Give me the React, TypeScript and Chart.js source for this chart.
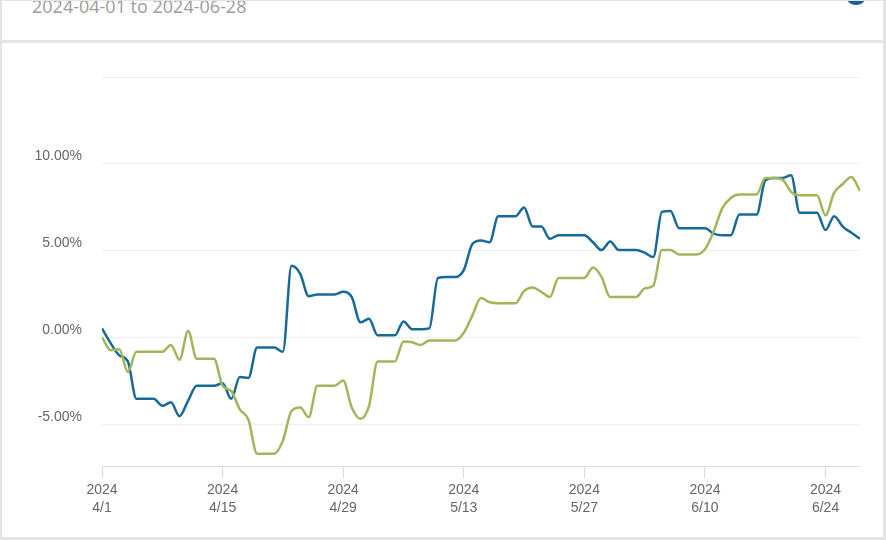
import { useEffect, useRef } from 'react';
import { Chart, registerables } from 'chart.js';

Chart.register(...registerables);

// Cumulative return (%) per calendar day, 2024-04-01 .. 2024-06-28 (weekends hold Friday's value)
const portfolioReturns = [
  0.55, -0.3, -1.0, -1.35, -3.5, -3.5, -3.5,
  -3.9, -3.7, -4.5, -3.6, -2.75, -2.75, -2.75,
  -2.6, -3.5, -2.25, -2.3, -0.55, -0.55, -0.55,
  -0.8, 4.15, 3.7, 2.4, 2.5, 2.5, 2.5,
  2.65, 2.35, 0.9, 1.1, 0.15, 0.15, 0.15,
  0.95, 0.5, 0.5, 0.55, 3.45, 3.5, 3.5,
  3.9, 5.4, 5.6, 5.5, 7.0, 7.0, 7.0,
  7.5, 6.4, 6.4, 5.7, 5.9, 5.9, 5.9,
  5.9, 5.5, 5.05, 5.55, 5.05, 5.05, 5.05,
  4.9, 4.65, 7.25, 7.3, 6.3, 6.3, 6.3,
  6.3, 6.0, 5.9, 5.9, 7.1, 7.1, 7.1,
  9.05, 9.2, 9.2, 9.35, 7.2, 7.2, 7.2,
  6.2, 7.0, 6.4, 6.05, 5.7,
];

const benchmarkReturns = [
  0.05, -0.7, -0.65, -1.95, -0.8, -0.8, -0.8,
  -0.8, -0.4, -1.25, 0.4, -1.2, -1.2, -1.2,
  -2.75, -3.05, -4.1, -4.7, -6.65, -6.65, -6.65,
  -5.9, -4.2, -4.0, -4.55, -2.75, -2.75, -2.75,
  -2.45, -4.0, -4.65, -3.9, -1.35, -1.35, -1.35,
  -0.2, -0.25, -0.4, -0.15, -0.15, -0.15, -0.15,
  0.3, 1.3, 2.3, 2.05, 2.0, 2.0, 2.0,
  2.7, 2.9, 2.65, 2.35, 3.45, 3.45, 3.45,
  3.45, 4.05, 3.5, 2.35, 2.35, 2.35, 2.35,
  2.85, 3.0, 5.05, 5.05, 4.8, 4.8, 4.8,
  5.1, 6.1, 7.45, 8.05, 8.25, 8.25, 8.25,
  9.2, 9.2, 9.1, 8.4, 8.2, 8.2, 8.2,
  7.05, 8.35, 8.85, 9.25, 8.45,
];

const tickDays = [0, 14, 28, 42, 56, 70, 84];
const tickYears = ['2024', '2024', '2024', '2024', '2024', '2024', '2024'];
const tickDates = ['4/1', '4/15', '4/29', '5/13', '5/27', '6/10', '6/24'];
const yTickValues = [-5, 0, 5, 10, 15];

const FONT = '"Liberation Sans", Arial, sans-serif';

const ReturnChart = () => {
  const chartRef = useRef<HTMLCanvasElement>(null);
  const chartInstance = useRef<Chart | null>(null);

  useEffect(() => {
    if (chartInstance.current) {
      chartInstance.current.destroy();
    }
    if (chartRef.current) {
      const ctx = chartRef.current.getContext('2d');
      if (ctx) {
        chartInstance.current = new Chart(ctx, {
          type: 'line',
          data: {
            datasets: [
              {
                label: 'Benchmark',
                data: benchmarkReturns.map((y, i) => ({ x: i, y })),
                borderColor: '#a0b65a',
                borderWidth: 2.5,
                pointRadius: 0,
                cubicInterpolationMode: 'monotone',
              },
              {
                label: 'Portfolio',
                data: portfolioReturns.map((y, i) => ({ x: i, y })),
                borderColor: '#17699a',
                borderWidth: 2.5,
                pointRadius: 0,
                cubicInterpolationMode: 'monotone',
              },
            ],
          },
          options: {
            animation: false,
            responsive: true,
            maintainAspectRatio: false,
            layout: { padding: { left: 0, right: 23, top: 34, bottom: 0 } },
            plugins: { legend: { display: false }, tooltip: { enabled: false } },
            scales: {
              x: {
                type: 'linear',
                min: 0,
                max: 88,
                afterBuildTicks: (s: any) => {
                  s.ticks = tickDays.map((v) => ({ value: v }));
                },
                afterFit: (s: any) => {
                  s.height = 71;
                },
                ticks: {
                  autoSkip: false,
                  maxRotation: 0,
                  padding: 3,
                  color: '#666',
                  font: { size: 14, family: FONT, lineHeight: 1.3 },
                  callback: (v: any) => {
                    const i = tickDays.indexOf(Number(v));
                    return i >= 0 ? [tickYears[i], tickDates[i]] : '';
                  },
                },
                grid: { drawOnChartArea: false, drawTicks: true, tickLength: 12, tickColor: '#dadada' },
                border: { display: true, color: '#dddddd' },
              },
              y: {
                min: -7.36,
                max: 15,
                afterBuildTicks: (s: any) => {
                  s.ticks = yTickValues.map((v) => ({ value: v }));
                },
                afterFit: (s: any) => {
                  s.width = 100;
                },
                ticks: {
                  padding: 20,
                  labelOffset: -8,
                  color: '#666',
                  font: { size: 14, family: FONT },
                  callback: (v: any) => (Number(v) === 15 ? '' : Number(v).toFixed(2) + '%'),
                },
                grid: { color: '#eeeeee', drawTicks: false },
                border: { display: false },
              },
            },
          },
        });
      }
    }
    return () => {
      if (chartInstance.current) {
        chartInstance.current.destroy();
        chartInstance.current = null;
      }
    };
  }, []);

  return (
    <div style={{ position: 'absolute', left: 2, top: 43, width: 881, height: 494, background: '#fff' }}>
      <canvas ref={chartRef}></canvas>
    </div>
  );
};

export default function App() {
  return (
    <div
      style={{
        position: 'absolute',
        left: 0,
        top: 0,
        width: 886,
        height: 540,
        background: '#e4e4e4',
        overflow: 'hidden',
      }}
    >
      <div style={{ position: 'absolute', left: 2, top: 1, width: 881, height: 39, background: '#fff', overflow: 'hidden' }}>
        <div
          style={{
            position: 'absolute',
            left: 30,
            top: -4,
            fontFamily: '"Open Sans", sans-serif',
            fontSize: 18,
            lineHeight: '18px',
            color: '#9c9c9c',
            whiteSpace: 'nowrap',
          }}
        >
          2024-04-01 to 2024-06-28
        </div>
        <div
          style={{
            position: 'absolute',
            left: 843,
            top: -18,
            width: 22,
            height: 22,
            borderRadius: '50%',
            background: '#1c5c96',
          }}
        />
      </div>
      <ReturnChart />
    </div>
  );
}
